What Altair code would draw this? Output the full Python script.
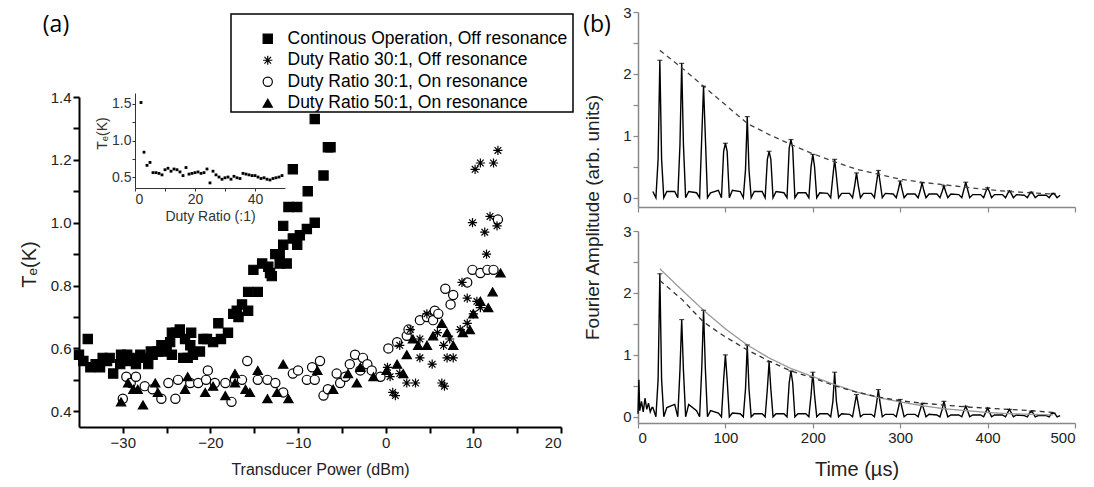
import altair as alt
import pandas as pd

FONT = "Liberation Sans"

# ---------------- panel (a): main scatter ----------------
series_names = [
    "Continous Operation, Off resonance",
    "Duty Ratio 30:1, Off resonance",
    "Duty Ratio 30:1, On resonance",
    "Duty Ratio 50:1, On resonance",
]

cont_x = [-35.0, -34.5, -34.0, -33.7, -33.1, -32.6, -32.3, -31.8, -31.5, -31.1, -30.3, -30.2, -29.5, -29.4,
          -28.8, -28.5, -28.0, -27.5, -27.1, -26.8, -26.6, -26.0, -25.6, -25.4, -25.0, -24.6, -24.4, -24.4,
          -23.9, -23.5, -23.1, -22.9, -22.6, -22.3, -22.2, -22.0, -21.2, -20.8, -20.4, -19.7, -19.1, -18.8,
          -18.0, -17.4, -17.0, -16.8, -16.4, -15.7, -15.7, -15.1, -14.6, -14.1, -13.4, -13.2, -13.0, -12.6,
          -12.1, -12.1, -11.7, -11.7, -11.3, -11.1, -10.6, -10.6, -10.1, -10.1, -9.8, -9.0, -8.9, -8.1,
          -8.1, -7.1, -6.6, -6.3]
cont_y = [0.58, 0.56, 0.63, 0.54, 0.55, 0.54, 0.57, 0.56, 0.57, 0.52, 0.55, 0.58, 0.58, 0.56,
          0.57, 0.55, 0.58, 0.57, 0.55, 0.59, 0.58, 0.59, 0.61, 0.59, 0.61, 0.62, 0.58, 0.65,
          0.65, 0.66, 0.57, 0.63, 0.57, 0.61, 0.65, 0.58, 0.59, 0.63, 0.63, 0.62, 0.68, 0.63,
          0.65, 0.71, 0.72, 0.70, 0.74, 0.72, 0.78, 0.85, 0.78, 0.87, 0.86, 0.84, 0.83, 0.90,
          0.87, 0.90, 0.93, 0.99, 0.87, 1.05, 0.95, 1.17, 0.93, 1.05, 0.96, 0.98, 1.10, 1.00,
          1.33, 1.15, 1.24, 1.24]

off30_x = [0.2, 0.5, 0.8, 1.1, 1.6, 1.6, 2.4, 2.8, 3.4, 3.9, 3.9, 4.7, 5.3, 5.9, 6.4, 6.6, 6.7, 7.0,
           7.3, 7.7, 8.5, 8.7, 9.3, 9.3, 9.9, 10.0, 10.2, 10.4, 10.8, 10.8, 11.3, 11.5, 11.9, 12.3,
           12.7, 12.8]
off30_y = [0.54, 0.51, 0.46, 0.45, 0.52, 0.61, 0.49, 0.66, 0.49, 0.57, 0.63, 0.71, 0.55, 0.65, 0.49,
           0.61, 0.48, 0.57, 0.63, 0.57, 0.66, 0.81, 0.68, 0.76, 1.00, 0.71, 1.17, 0.75, 0.73, 1.19,
           0.97, 0.90, 1.02, 1.19, 0.99, 1.23]

on30_x = [-30.0, -29.6, -29.1, -28.5, -27.5, -26.6, -25.6, -24.8, -24.0, -23.7, -22.3, -21.4, -20.5,
          -20.3, -19.5, -18.3, -17.6, -17.2, -16.4, -15.8, -14.6, -13.5, -12.6, -11.7, -10.6, -10.0,
          -9.0, -8.4, -8.1, -7.5, -7.1, -6.6, -5.6, -5.2, -4.6, -4.1, -3.5, -2.9, -2.6, -2.1, -1.6,
          -0.6, 0.3, 1.3, 2.4, 2.6, 3.9, 4.7, 5.4, 5.6, 6.0, 6.8, 7.4, 7.7, 9.3, 9.9, 10.8, 11.6,
          12.3, 12.8]
on30_y = [0.44, 0.51, 0.49, 0.51, 0.48, 0.47, 0.44, 0.49, 0.44, 0.50, 0.49, 0.49, 0.50,
          0.53, 0.49, 0.49, 0.43, 0.50, 0.50, 0.56, 0.50, 0.50, 0.49, 0.46, 0.52, 0.53,
          0.50, 0.54, 0.50, 0.56, 0.45, 0.47, 0.52, 0.49, 0.51, 0.55, 0.58, 0.53, 0.57, 0.55, 0.53,
          0.51, 0.60, 0.62, 0.64, 0.66, 0.69, 0.70, 0.69, 0.72, 0.71, 0.79, 0.74, 0.77, 0.81, 0.85,
          0.84, 0.85, 0.85, 1.01]

on50_x = [-30.2, -29.4, -28.8, -28.3, -27.7, -26.3, -26.0, -22.9, -22.6, -20.6, -19.7, -18.3, -17.2,
          -17.2, -16.0, -15.5, -14.6, -13.5, -12.4, -11.7, -11.1, -7.8, -6.0, -4.3, -3.3, -2.9, -1.4,
          0.1, 1.3, 2.0, 2.4, 3.1, 3.7, 4.7, 5.4, 6.4, 7.0, 7.7, 8.8, 9.6, 10.0, 10.8, 11.7, 12.2,
          13.1]
on50_y = [0.43, 0.49, 0.47, 0.47, 0.42, 0.49, 0.46, 0.47, 0.51, 0.46, 0.48, 0.45, 0.52,
          0.49, 0.47, 0.46, 0.53, 0.44, 0.46, 0.55, 0.44, 0.53, 0.47, 0.52, 0.49, 0.54, 0.51,
          0.53, 0.55, 0.52, 0.58, 0.63, 0.61, 0.61, 0.64, 0.68, 0.65, 0.61, 0.65, 0.66, 0.71, 0.75,
          0.73, 0.78, 0.84]

main_x_ticks = [-30, -25, -20, -15, -10, -5, 0, 5, 10, 15, 20]
main_y_ticks = [0.4, 0.5, 0.6, 0.7, 0.8, 0.9, 1.0, 1.1, 1.2, 1.3, 1.4]

# ---------------- panel (a): inset ----------------
inset_x = [2, 3, 4, 5, 6, 7, 8, 9, 10, 11, 12, 13, 14, 15, 16, 17, 18, 19, 20, 21, 22, 23, 24, 25,
           26, 27, 28, 29, 30, 31, 32, 33, 34, 35, 36, 37, 38, 39, 40, 41, 42, 43, 44, 45, 46, 47, 48, 49]
inset_y = [1.52, 0.84, 0.66, 0.70, 0.56, 0.56, 0.55, 0.53, 0.60, 0.62, 0.58, 0.61, 0.60, 0.57, 0.52,
           0.63, 0.54, 0.55, 0.56, 0.57, 0.55, 0.56, 0.61, 0.42, 0.58, 0.53, 0.50, 0.47, 0.49, 0.50,
           0.47, 0.51, 0.49, 0.48, 0.55, 0.54, 0.53, 0.52, 0.52, 0.50, 0.48, 0.49, 0.47, 0.46, 0.48,
           0.49, 0.50, 0.52]

# ---------------- panel (b) ----------------
peak_t = [25, 50, 75, 100, 125, 150, 175, 200, 225, 250, 275, 300, 325, 350, 375, 400, 425, 450, 475]

top_h = [2.22, 2.17, 1.80, 0.88, 1.31, 0.75, 0.94, 0.70, 0.62, 0.40, 0.44, 0.27, 0.24, 0.19, 0.25,
         0.16, 0.11, 0.09, 0.07]
top_base = [0.62, 0.85, 1.00, 0.75, 0.45, 0.62, 0.80, 0.50, 0.35, 0.20, 0.25, 0.14, 0.12, 0.10, 0.14,
            0.10, 0.07, 0.06, 0.05]
top_floor = [0.10, 0.10, 0.08, 0.12, 0.10, 0.10, 0.08, 0.08, 0.07, 0.07, 0.07, 0.06, 0.06, 0.06, 0.05,
             0.05, 0.05, 0.04, 0.04]
top_env = [2.38, 2.10, 1.80, 1.50, 1.20, 1.02, 0.86, 0.71, 0.58, 0.46, 0.38, 0.30, 0.25, 0.21, 0.17,
           0.13, 0.10, 0.08, 0.06]

bot_h = [2.31, 1.57, 1.72, 1.00, 1.16, 0.89, 0.74, 0.72, 0.72, 0.36, 0.44, 0.28, 0.21, 0.25, 0.17,
         0.14, 0.12, 0.09, 0.06]
bot_base = [0.60, 0.75, 0.80, 0.60, 0.45, 0.45, 0.55, 0.35, 0.25, 0.20, 0.22, 0.15, 0.12, 0.12, 0.10,
            0.08, 0.07, 0.06, 0.05]
bot_floor = [0.15, 0.20, 0.10, 0.06, 0.05, 0.05, 0.05, 0.05, 0.05, 0.04, 0.04, 0.04, 0.04, 0.03, 0.03,
             0.03, 0.03, 0.02, 0.02]
bot_env_solid = [2.39, 2.05, 1.72, 1.42, 1.16, 0.95, 0.78, 0.65, 0.52, 0.40, 0.31, 0.24, 0.18, 0.13,
                 0.10, 0.07, 0.05, 0.04, 0.03]
bot_env_dash = [2.20, 1.90, 1.53, 1.29, 1.08, 0.90, 0.74, 0.63, 0.50, 0.40, 0.32, 0.26, 0.22, 0.19,
                0.16, 0.14, 0.12, 0.10, 0.07]
bot_noise_t = [0, 1, 2, 4, 6, 8, 10, 12, 14, 16]
bot_noise_v = [0.05, 0.60, 0.10, 0.25, 0.08, 0.30, 0.12, 0.22, 0.08, 0.15]

b_x_ticks = [0, 100, 200, 300, 400, 500]
b_y_ticks = [0, 0.5, 1, 1.5, 2, 2.5, 3]

# ---------------- build tables ----------------
rows = []
for name, xs, ys in [(series_names[2], on30_x, on30_y), (series_names[3], on50_x, on50_y),
                     (series_names[1], off30_x, off30_y), (series_names[0], cont_x, cont_y)]:
    for a, b in zip(xs, ys):
        rows.append({"P": a, "T": b, "series": name})
df_main = pd.DataFrame(rows)
df_inset = pd.DataFrame({"D": inset_x, "T": inset_y})


def build_trace(hs, bases, floors, pre_t, pre_v):
    ts, vs = list(pre_t), list(pre_v)
    for t, h, b, f in zip(peak_t, hs, bases, floors):
        ts += [t - 8, t - 4.5, t - 2, t, t + 2, t + 4.5, t + 8]
        vs += [f, 0.0, b, h, b, 0.0, f]
    return pd.DataFrame({"t": ts, "a": vs})


df_top = build_trace(top_h, top_base, top_floor, [], [])
df_bot = build_trace(bot_h, bot_base, bot_floor, bot_noise_t, bot_noise_v)
df_top_env = pd.DataFrame({"t": peak_t, "a": top_env})
df_bot_env = pd.DataFrame({"t": peak_t * 2, "a": bot_env_solid + bot_env_dash,
                           "k": ["fit1"] * len(peak_t) + ["fit2"] * len(peak_t)})
df_top_caps = pd.DataFrame({"t": peak_t, "a": top_h})
df_bot_caps = pd.DataFrame({"t": peak_t, "a": bot_h})

star_path = "M-1,0L1,0M0,-1L0,1M-0.72,-0.72L0.72,0.72M-0.72,0.72L0.72,-0.72"

# ---------------- scales ----------------
sx_main = alt.Scale(domain=[-35, 20], range=[79, 561], nice=False, zero=False)
sy_main = alt.Scale(domain=[0.35, 1.4], range=[427, 97], nice=False, zero=False)
sx_in = alt.Scale(domain=[0, 50], range=[135, 285], nice=False, zero=False)
sy_in = alt.Scale(domain=[0.35, 1.65], range=[188, 93], nice=False, zero=False)
sx_b = alt.Scale(domain=[0, 500], range=[638, 1075], nice=False, zero=False)
sy_top = alt.Scale(domain=[-0.15, 3], range=[207, 12], nice=False, zero=False)
sy_bot = alt.Scale(domain=[-0.1, 3], range=[423, 231], nice=False, zero=False)

legend = alt.Legend(orient="none", legendX=259, legendY=30, title=None, labelFont=FONT,
                    labelFontSize=17.5, labelLimit=500, symbolSize=85,
                    symbolStrokeWidth=1.2, rowPadding=2.5, labelOffset=11, padding=0)

common_ax = dict(grid=False, labelFont=FONT, titleFont=FONT, titleFontWeight="normal")

main = alt.Chart(df_main).mark_point(strokeWidth=1.2, opacity=1, size=85).encode(
    x=alt.X("P:Q", scale=sx_main, axis=alt.Axis(
        orient="bottom", offset=-60, values=main_x_ticks,
        labelExpr="datum.value % 10 == 0 ? datum.label : ''",
        title="Transducer Power (dBm)", titleFontSize=16, labelFontSize=15, titlePadding=11,
        domainColor="black", domainWidth=2, tickColor="black", tickWidth=2, tickSize=6,
        labelColor="#222", titleColor="#222", **common_ax)),
    y=alt.Y("T:Q", scale=sy_main, axis=alt.Axis(
        orient="left", offset=-79, values=main_y_ticks,
        labelExpr="round(datum.value * 10) % 2 == 0 ? format(datum.value, '.1f') : ''",
        title="Tₑ(K)", titleFontSize=20, labelFontSize=15, titleX=-50, titleY=264,
        titleBaseline="middle", titleAlign="center", titleAngle=270,
        domainColor="black", domainWidth=2, tickColor="black", tickWidth=2, tickSize=6,
        labelColor="#222", titleColor="#222", **common_ax)),
    shape=alt.Shape("series:N", scale=alt.Scale(domain=series_names,
                    range=["square", star_path, "circle", "triangle-up"]), legend=legend),
    fill=alt.Fill("series:N", scale=alt.Scale(domain=series_names,
                  range=["black", "black", "white", "black"]), legend=legend),
    stroke=alt.Stroke("series:N", scale=alt.Scale(domain=series_names,
                      range=["black", "black", "black", "black"]), legend=legend),
)

inset = alt.Chart(df_inset).mark_square(size=8, color="black", opacity=1).encode(
    x=alt.X("D:Q", scale=sx_in, axis=alt.Axis(
        orient="bottom", offset=-299, values=[0, 10, 20, 30, 40],
        labelExpr="datum.value % 20 == 0 ? datum.label : ''",
        title="Duty Ratio (:1)", titleFontSize=14, labelFontSize=14, titlePadding=3,
        labelPadding=1, domainColor="#333", domainWidth=1, tickColor="#333", tickSize=3,
        labelColor="#333", titleColor="#333", **common_ax)),
    y=alt.Y("T:Q", scale=sy_in, axis=alt.Axis(
        orient="left", offset=-135, values=[0.5, 0.75, 1.0, 1.25, 1.5],
        labelExpr="(datum.value == 0.5 || datum.value == 1 || datum.value == 1.5) ? format(datum.value, '.1f') : ''",
        title="Tₑ(K)", titleFontSize=14, labelFontSize=14, labelPadding=1,
        titleX=-33, titleY=133, titleBaseline="middle", titleAlign="center", titleAngle=270,
        domainColor="#333", domainWidth=1, tickColor="#333", tickSize=3,
        labelColor="#333", titleColor="#333", **common_ax)),
)

grey_axis = dict(domainColor="#888", domainWidth=1.5, tickColor="#888", tickWidth=1.2, tickSize=5,
                 labelFontSize=15, labelColor="#222", titleColor="#222", **common_ax)
int_labels = "datum.value % 1 == 0 ? format(datum.value, 'd') : ''"

top_line = alt.Chart(df_top).mark_line(color="black", strokeWidth=1.4).encode(
    x=alt.X("t:Q", scale=sx_b, axis=alt.Axis(orient="bottom", offset=-280, values=b_x_ticks,
                                             labels=False, title=None, **grey_axis)),
    y=alt.Y("a:Q", scale=sy_top, axis=alt.Axis(
        orient="left", offset=-638, values=b_y_ticks, labelExpr=int_labels,
        title="Fourier Amplitude (arb. units)", titleFontSize=19, titleX=-46, titleY=217,
        titleBaseline="middle", titleAlign="center", titleAngle=270, **grey_axis)),
)
top_env_l = alt.Chart(df_top_env).mark_line(color="#444", strokeWidth=1.3, strokeDash=[5, 4]).encode(
    x=alt.X("t:Q", scale=sx_b, axis=None), y=alt.Y("a:Q", scale=sy_top, axis=None))
top_caps = alt.Chart(df_top_caps).mark_tick(orient="horizontal", size=5, thickness=1.2, color="black").encode(
    x=alt.X("t:Q", scale=sx_b, axis=None), y=alt.Y("a:Q", scale=sy_top, axis=None))

bot_line = alt.Chart(df_bot).mark_line(color="black", strokeWidth=1.4).encode(
    x=alt.X("t:Q", scale=sx_b, axis=alt.Axis(orient="bottom", offset=-64, values=b_x_ticks,
                                             title="Time (µs)", titleFontSize=20, titlePadding=14,
                                             **grey_axis)),
    y=alt.Y("a:Q", scale=sy_bot, axis=alt.Axis(
        orient="left", offset=-638, values=b_y_ticks, labelExpr=int_labels, title=None, **grey_axis)),
)
bot_env_l = alt.Chart(df_bot_env).mark_line(strokeWidth=1.3).encode(
    x=alt.X("t:Q", scale=sx_b, axis=None), y=alt.Y("a:Q", scale=sy_bot, axis=None),
    detail="k:N",
    color=alt.Color("k:N", scale=alt.Scale(domain=["fit1", "fit2"], range=["#999", "#333"]), legend=None),
    strokeDash=alt.StrokeDash("k:N", scale=alt.Scale(domain=["fit1", "fit2"], range=[[1, 0], [5, 4]]),
                              legend=None),
)
bot_caps = alt.Chart(df_bot_caps).mark_tick(orient="horizontal", size=5, thickness=1.2, color="black").encode(
    x=alt.X("t:Q", scale=sx_b, axis=None), y=alt.Y("a:Q", scale=sy_bot, axis=None))

one = pd.DataFrame({"label": ["(a)", "(b)"]})
lab_a = alt.Chart(one[one.label == "(a)"]).mark_text(font="Open Sans", fontSize=23, align="center",
                                                    baseline="middle", color="black").encode(
    x=alt.value(56), y=alt.value(25), text="label:N")
lab_b = alt.Chart(one[one.label == "(b)"]).mark_text(font="Open Sans", fontSize=23, align="center",
                                                    baseline="middle", color="black").encode(
    x=alt.value(597), y=alt.value(25), text="label:N")
legend_box = alt.Chart(one[one.label == "(a)"]).mark_rect(filled=False, stroke="black", strokeWidth=1.5).encode(
    x=alt.value(231), x2=alt.value(573), y=alt.value(14), y2=alt.value(112))

chart = alt.layer(
    top_line, top_env_l, top_caps, bot_line, bot_env_l, bot_caps,
    main, inset, legend_box, lab_a, lab_b,
).resolve_scale(x="independent", y="independent", color="independent").properties(
    width=1094, height=487, autosize=alt.AutoSizeParams(type="none"),
    padding={"left": 0, "top": 0, "right": 0, "bottom": 0}, background="white",
).configure_view(strokeWidth=0).configure_axis(
    grid=False, labelFont=FONT, titleFont=FONT, titleFontWeight="normal"
)

chart.save("out.html", embed_options={"renderer": "svg", "actions": False})
